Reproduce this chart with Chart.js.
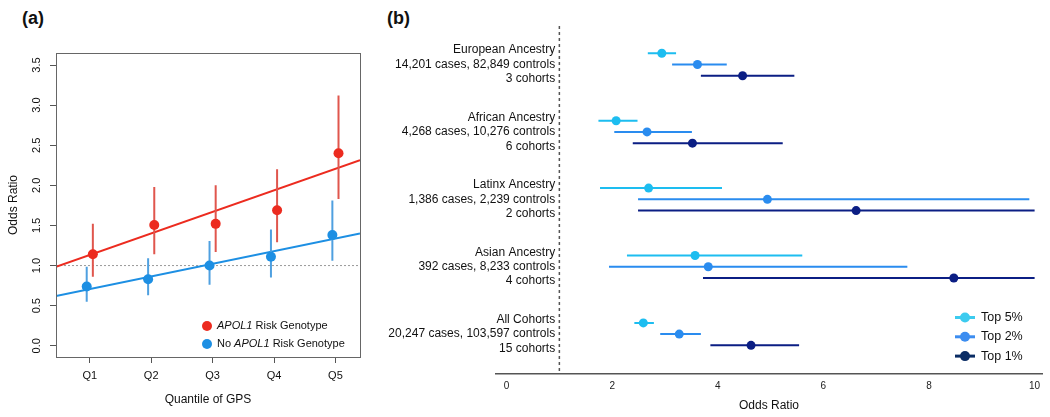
<!DOCTYPE html>
<html>
<head>
<meta charset="utf-8">
<script src="https://cdn.jsdelivr.net/npm/chart.js@4.4.1/dist/chart.umd.min.js"></script>
<style>
  body { margin: 0; background: #fff; width: 1050px; height: 417px; overflow: hidden; position: relative; font-family: "Liberation Sans", Arial, sans-serif; }
  canvas { position: absolute; top: 0; }
  #chartA { left: 0; }
  #chartB { left: 375px; }
  .panel { position: absolute; top: 8px; font-weight: bold; font-size: 18px; color: #111; }
</style>
</head>
<body>
<div class="panel" style="left:22px">(a)</div>
<div class="panel" style="left:387px">(b)</div>
<canvas id="chartA" width="370" height="417"></canvas>
<canvas id="chartB" width="675" height="417"></canvas>
<script>
// ---- panel (a) data ----
var quantiles = ['Q1', 'Q2', 'Q3', 'Q4', 'Q5'];
var quantPos = [1, 2, 3, 4, 5];
var seriesA = ['APOL1 Risk Genotype', 'No APOL1 Risk Genotype'];
var apolOR = [1.14, 1.505, 1.52, 1.69, 2.40];
var apolLo = [0.86, 1.14, 1.17, 1.29, 1.83];
var apolHi = [1.52, 1.98, 2.00, 2.20, 3.12];
var noApolOR = [0.74, 0.83, 1.00, 1.11, 1.38];
var noApolLo = [0.55, 0.63, 0.76, 0.85, 1.06];
var noApolHi = [0.985, 1.09, 1.305, 1.45, 1.81];
var fitX = [0.45, 5.4];
var apolFit = [0.985, 2.315];
var noApolFit = [0.62, 1.40];
var yTicksA = [0, 0.5, 1, 1.5, 2, 2.5, 3, 3.5];

// ---- panel (b) data ----
var groups = [
    ['European Ancestry', '14,201 cases, 82,849 controls', '3 cohorts'],
    ['African Ancestry', '4,268 cases, 10,276 controls', '6 cohorts'],
    ['Latinx Ancestry', '1,386 cases, 2,239 controls', '2 cohorts'],
    ['Asian Ancestry', '392 cases, 8,233 controls', '4 cohorts'],
    ['All Cohorts', '20,247 cases, 103,597 controls', '15 cohorts']
];
var tiers = ['Top 5%', 'Top 2%', 'Top 1%'];
var top5OR = [2.94, 2.075, 2.69, 3.57, 2.59];
var top5Lo = [2.675, 1.74, 1.77, 2.28, 2.42];
var top5Hi = [3.21, 2.48, 4.08, 5.60, 2.79];
var top2OR = [3.615, 2.66, 4.94, 3.82, 3.27];
var top2Lo = [3.135, 2.04, 2.49, 1.94, 2.91];
var top2Hi = [4.17, 3.51, 9.90, 7.59, 3.68];
var top1OR = [4.47, 3.52, 6.62, 8.47, 4.63];
var top1Lo = [3.68, 2.39, 2.49, 3.72, 3.86];
var top1Hi = [5.45, 5.23, 10.0, 10.0, 5.54];
var xTicksB = [0, 2, 4, 6, 8, 10];
var refOR = 1;

var FONT = '"Liberation Sans", Arial, Helvetica, sans-serif';
Chart.defaults.font.family = FONT;
Chart.defaults.color = '#111';
Chart.defaults.animation = false;
Chart.defaults.events = [];
Chart.defaults.plugins.legend.display = false;
Chart.defaults.plugins.tooltip.enabled = false;

var red = '#EC2B1F', redBar = '#E0564D';
var blue = '#1D8FE3', blueBar = '#4FA0E0';
var tierColors = ['#1DBDF0', '#2A8CEF', '#0B1E84'];
var legendColors = ['#3CCBEF', '#3C8DF0', '#0A2C64'];

// vertical error bars, segments split by null points
function whiskersV(pos, lo, hi, dx) {
    var pts = [];
    for (var i = 0; i < pos.length; i++) {
        pts.push({x: pos[i] + dx, y: lo[i]}, {x: pos[i] + dx, y: hi[i]}, {x: null, y: null});
    }
    return pts;
}
function whiskersH(rows, lo, hi) {
    var pts = [];
    for (var i = 0; i < rows.length; i++) {
        pts.push({x: lo[i], y: rows[i]}, {x: hi[i], y: rows[i]}, {x: null, y: null});
    }
    return pts;
}

// text with the gene name in italics
function drawGeneText(ctx, text, x, y, size) {
    text.split(/(APOL1)/).forEach(function (p) {
        if (!p) return;
        ctx.font = (p === 'APOL1' ? 'italic ' : '') + size + 'px ' + FONT;
        ctx.fillText(p, x, y);
        x += ctx.measureText(p).width;
    });
}

var boxPlugin = {
    id: 'box',
    afterDraw: function (chart) {
        var a = chart.chartArea, ctx = chart.ctx;
        ctx.save();
        ctx.strokeStyle = '#666';
        ctx.lineWidth = 1;
        ctx.strokeRect(a.left + 0.5, a.top + 0.5, a.right - a.left, a.bottom - a.top);
        ctx.restore();
    }
};

// R style rotated y tick labels
var rotatedYTicks = {
    id: 'rotY',
    afterDraw: function (chart) {
        var s = chart.scales.y, ctx = chart.ctx;
        ctx.save();
        ctx.fillStyle = '#111';
        ctx.font = '11px ' + FONT;
        ctx.textAlign = 'center';
        ctx.textBaseline = 'middle';
        s.ticks.forEach(function (t) {
            ctx.save();
            ctx.translate(37, s.getPixelForValue(t.value));
            ctx.rotate(-Math.PI / 2);
            ctx.fillText(t.value.toFixed(1), 0, 0);
            ctx.restore();
        });
        ctx.restore();
    }
};

var legendA = {
    id: 'legendA',
    afterDraw: function (chart) {
        var ctx = chart.ctx;
        var cols = [red, blue];
        ctx.save();
        ctx.textBaseline = 'middle';
        ctx.fillStyle = '#111';
        seriesA.forEach(function (name, i) {
            var y = 326 + i * 18;
            ctx.beginPath();
            ctx.arc(207, y, 5, 0, Math.PI * 2);
            ctx.fillStyle = cols[i];
            ctx.fill();
            ctx.fillStyle = '#111';
            drawGeneText(ctx, name, 217, y, 11);
        });
        ctx.restore();
    }
};

new Chart(document.getElementById('chartA'), {
    type: 'scatter',
    data: {
        datasets: [
            {data: quantPos.map(function (q, i) { return {x: q + 0.05, y: apolOR[i]}; }),
                backgroundColor: red, pointRadius: 5, borderWidth: 0},
            {data: quantPos.map(function (q, i) { return {x: q - 0.05, y: noApolOR[i]}; }),
                backgroundColor: blue, pointRadius: 5, borderWidth: 0},
            {data: whiskersV(quantPos, apolLo, apolHi, 0.05), showLine: true,
                borderColor: redBar, borderWidth: 2, pointRadius: 0},
            {data: whiskersV(quantPos, noApolLo, noApolHi, -0.05), showLine: true,
                borderColor: blueBar, borderWidth: 2, pointRadius: 0},
            {data: fitX.map(function (x, i) { return {x: x, y: apolFit[i]}; }), showLine: true,
                borderColor: red, borderWidth: 2, pointRadius: 0},
            {data: fitX.map(function (x, i) { return {x: x, y: noApolFit[i]}; }), showLine: true,
                borderColor: blue, borderWidth: 2, pointRadius: 0},
            {data: fitX.map(function (x) { return {x: x, y: refOR}; }), showLine: true,
                borderColor: '#999', borderWidth: 1, borderDash: [2, 2], pointRadius: 0}
        ]
    },
    options: {
        responsive: false,
        layout: {padding: {top: 53, right: 10, left: 0, bottom: 0}},
        scales: {
            x: {
                type: 'linear', min: fitX[0], max: fitX[1],
                afterBuildTicks: function (s) { s.ticks = quantPos.map(function (v) { return {value: v}; }); },
                ticks: {callback: function (v, i) { return quantiles[i]; }, font: {size: 11}, padding: 6, color: '#111'},
                grid: {drawOnChartArea: false, drawTicks: true, tickLength: 6, color: '#555'},
                border: {display: false},
                title: {display: true, text: 'Quantile of GPS', font: {size: 12}, color: '#111', padding: {top: 0, bottom: 10}},
                afterFit: function (s) { s.height = 60; }
            },
            y: {
                type: 'linear', min: -0.14, max: 3.65,
                afterBuildTicks: function (s) { s.ticks = yTicksA.map(function (v) { return {value: v}; }); },
                ticks: {display: false},
                grid: {drawOnChartArea: false, drawTicks: true, tickLength: 6, color: '#555'},
                border: {display: false},
                title: {display: true, text: 'Odds Ratio', font: {size: 12}, color: '#111', padding: {top: 6, bottom: 0}},
                afterFit: function (s) { s.width = 56; }
            }
        }
    },
    plugins: [boxPlugin, rotatedYTicks, legendA]
});

// ---- panel (b) ----
var tierOR = [top5OR, top2OR, top1OR];
var tierLo = [top5Lo, top2Lo, top1Lo];
var tierHi = [top5Hi, top2Hi, top1Hi];
var yMinB = -2.43, yMaxB = 28.55;
var pointSets = [], barSets = [];
tiers.forEach(function (t, k) {
    var rows = groups.map(function (g, i) { return i * 6 + k; });
    pointSets.push({data: rows.map(function (r, i) { return {x: tierOR[k][i], y: r}; }),
        backgroundColor: tierColors[k], pointRadius: 4.5, borderWidth: 0});
    barSets.push({data: whiskersH(rows, tierLo[k], tierHi[k]), showLine: true,
        borderColor: tierColors[k], borderWidth: 2, pointRadius: 0});
});
var refLineB = {data: [{x: refOR, y: yMinB}, {x: refOR, y: yMaxB}], showLine: true,
    borderColor: '#555', borderWidth: 1.5, borderDash: [3, 3], pointRadius: 0};

var legendB = {
    id: 'legendB',
    afterDraw: function (chart) {
        var ctx = chart.ctx;
        ctx.save();
        ctx.textBaseline = 'middle';
        ctx.font = '12.5px ' + FONT;
        tiers.forEach(function (t, k) {
            var y = 317.5 + k * 19.3;
            ctx.strokeStyle = legendColors[k];
            ctx.fillStyle = legendColors[k];
            ctx.lineWidth = 3;
            ctx.beginPath();
            ctx.moveTo(580, y);
            ctx.lineTo(600, y);
            ctx.stroke();
            ctx.beginPath();
            ctx.arc(590, y, 5, 0, Math.PI * 2);
            ctx.fill();
            ctx.fillStyle = '#111';
            ctx.fillText(t, 606, y);
        });
        ctx.restore();
    }
};

new Chart(document.getElementById('chartB'), {
    type: 'scatter',
    data: {datasets: pointSets.concat(barSets).concat([refLineB])},
    options: {
        responsive: false,
        layout: {padding: {top: 26, left: 121, right: 8, bottom: 0}},
        scales: {
            x: {
                type: 'linear', min: -0.2, max: 10.14,
                afterBuildTicks: function (s) { s.ticks = xTicksB.map(function (v) { return {value: v}; }); },
                ticks: {font: {size: 10}, padding: 6, color: '#222'},
                grid: {display: false, drawTicks: false},
                border: {color: '#555', width: 1.5},
                title: {display: true, text: 'Odds Ratio', font: {size: 12}, color: '#111', padding: {top: 0, bottom: 4}},
                afterFit: function (s) { s.height = 43; }
            },
            y: {
                type: 'linear', reverse: true, min: yMinB, max: yMaxB,
                position: {x: 0.92},
                afterBuildTicks: function (s) { s.ticks = groups.map(function (g, i) { return {value: i * 6 + 1}; }); },
                ticks: {callback: function (v, i) { return groups[i]; }, font: {size: 12}, color: '#111'},
                grid: {display: false, drawTicks: false},
                border: {display: false}
            }
        }
    },
    plugins: [legendB]
});
</script>
</body>
</html>
